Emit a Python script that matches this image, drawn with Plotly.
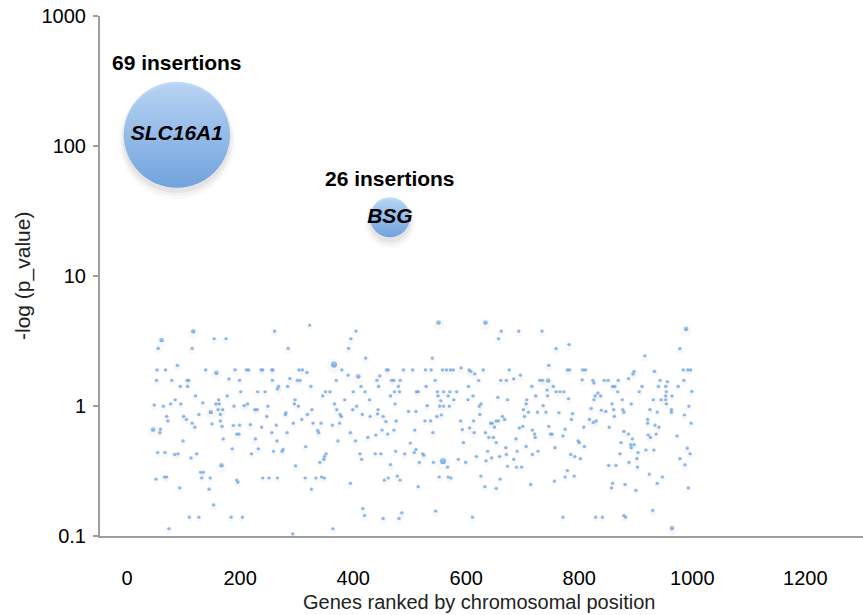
import math
import plotly.graph_objects as go

# ---------------- data ----------------
# highlighted genes
top_genes = ["SLC16A1", "BSG"]
top_pos = [88, 465]
top_neglogp = [122, 28.3]
top_insertions = [69, 26]

# background genes, grouped by insertion count
# 4 insertions
pos_4 = [366, 559]
nlp_4 = [2.09, 0.377]
# 3 insertions
pos_3 = [117, 61, 158, 148, 46, 167, 409, 551, 634, 745, 989, 964]
nlp_3 = [3.76, 3.22, 1.80, 0.90, 0.66, 0.35, 1.69, 4.39, 4.39, 1.57, 3.92, 0.115]
# 2 insertions
pos_2 = [261, 154, 175, 55, 115, 89, 191, 268, 266, 48, 134, 169, 189, 207, 115, 188, 218, 227, 232, 67, 145, 153, 74,
         405, 396, 392, 285, 422, 288, 391, 447, 443, 458, 404, 316, 298, 466, 417, 420, 486, 364, 293,
         662, 693, 734, 657, 759, 540, 746, 591, 608, 615, 684, 696, 743, 555, 531, 556, 606, 614, 541, 700, 659, 653, 546,
         782, 978, 916, 897, 895, 933, 805, 956, 999, 781, 833, 821, 839, 818, 825, 830, 879, 922, 918, 991, 987, 930, 879]
nlp_2 = [3.78, 3.30, 3.30, 2.78, 2.78, 2.06, 1.90, 1.42, 1.36, 1.02, 1.06, 0.94, 1.00, 1.01, 0.74, 0.71, 0.72, 0.56, 0.47, 0.44, 0.23, 0.174, 0.114,
         3.78, 3.30, 2.78, 2.78, 2.34, 1.63, 1.73, 1.71, 0.87, 0.76, 0.54, 0.487, 0.347, 0.355, 0.163, 0.144, 0.151, 0.114, 0.104,
         3.78, 3.78, 3.78, 3.30, 2.77, 2.34, 2.06, 1.97, 1.85, 1.77, 1.62, 1.73, 1.33, 1.10, 1.01, 0.855, 0.68, 0.625, 0.625, 0.70, 0.41, 0.233, 0.156,
         2.98, 2.77, 2.44, 1.85, 1.77, 1.85, 1.59, 1.54, 1.30, 1.14, 1.26, 0.96, 0.93, 0.79, 0.75, 0.77, 0.64, 0.60, 0.46, 0.475, 0.353, 0.158, 0.144]
# 1 insertion
pos_1 = [53, 68, 139, 211, 215, 237, 240, 256, 258, 52, 79, 106, 109, 180, 199, 257, 94, 107, 201, 231, 244,
         85, 121, 162, 177, 77, 95, 157, 163, 213, 64, 226, 230, 249, 127, 161, 165, 70, 72, 100, 105, 150, 165, 247, 264,
         59, 58, 120, 168, 194, 198, 199, 238, 256, 99, 170, 265, 54, 84, 90, 113, 123, 186, 220, 259,
         130, 135, 132, 147, 66, 70, 51, 194, 196, 240, 251, 266, 93, 110, 127, 184, 204,
         323, 304, 310, 380, 459, 462, 489, 505, 318, 301, 306, 370, 442, 468, 472, 483, 284, 325, 414, 445, 480,
         351, 359, 400, 421, 473, 482, 512, 515, 346, 466, 297, 385, 429, 296, 367, 474, 303, 406,
         327, 371, 399, 444, 498, 511, 281, 280, 319, 377, 379, 416, 430, 453, 309, 476, 294, 329, 343, 363, 376,
         472, 509, 451, 337, 339, 395, 283, 461, 440, 426, 373, 501, 511, 508, 491, 475, 276, 274,
         412, 439, 449, 352, 349, 517, 348, 341, 415, 315, 334, 344, 349, 462, 455, 478, 483, 326, 395, 515, 453, 481,
         528, 538, 558, 565, 572, 577, 605, 630, 676, 545, 622, 661, 671, 730, 735, 529, 604, 716, 754,
         549, 560, 571, 583, 759, 766, 550, 568, 612, 656, 723, 744, 578, 603, 673, 707, 626, 706, 736,
         553, 560, 570, 623, 701, 710, 726, 741, 624, 664, 668, 703, 764, 548, 527, 537, 590, 613, 653, 657,
         643, 646, 650, 746, 694, 593, 717, 721, 749, 752, 634, 640, 648, 722, 688, 595, 653,
         706, 727, 757, 670, 638, 690, 717, 523, 525, 618, 645, 671, 684, 635, 542, 586, 599, 673, 689, 698, 567,
         626, 552, 568, 573, 660, 756, 633, 714, 611,
         779, 783, 806, 811, 984, 992, 997, 824, 844, 851, 869, 887, 943, 985, 826, 859, 863, 911, 940, 953, 975,
         773, 868, 906, 954, 828, 838, 964, 953, 826, 876, 931, 945, 953, 858, 892, 954, 994,
         847, 861, 877, 879, 925, 938, 963, 963, 788, 862, 986, 786, 921, 998, 775, 808, 853, 921, 934, 941,
         771, 887, 936, 973, 926, 894, 798, 800, 874, 891, 897, 809, 892, 904, 932, 785, 792, 872, 996,
         802, 902, 978, 888, 852, 865, 903, 779, 924, 791, 775, 947, 859, 881, 938, 857, 900, 993,
         771, 829, 841, 882]
nlp_1 = [1.90, 1.90, 1.90, 1.90, 1.90, 1.90, 1.90, 1.90, 1.90, 1.58, 1.58, 1.58, 1.58, 1.62, 1.58, 1.58, 1.42, 1.42, 1.29, 1.29, 1.29,
         1.12, 1.20, 1.12, 1.20, 1.04, 1.04, 1.04, 1.04, 1.04, 1.00, 0.94, 0.94, 1.00, 0.865, 0.94, 0.865, 0.835, 0.77, 0.835, 0.79, 0.73, 0.77, 0.835, 0.715,
         0.665, 0.625, 0.69, 0.70, 0.61, 0.61, 0.715, 0.69, 0.625, 0.54, 0.56, 0.54, 0.44, 0.425, 0.43, 0.40, 0.43, 0.47, 0.43, 0.45,
         0.31, 0.31, 0.28, 0.28, 0.285, 0.285, 0.275, 0.27, 0.26, 0.28, 0.28, 0.28, 0.235, 0.14, 0.14, 0.14, 0.14,
         4.19, 1.90, 1.90, 1.90, 1.90, 1.90, 1.90, 1.90, 1.82, 1.58, 1.58, 1.58, 1.58, 1.58, 1.58, 1.58, 1.42, 1.42, 1.42, 1.42, 1.42,
         1.29, 1.29, 1.29, 1.29, 1.29, 1.29, 1.29, 1.29, 1.20, 1.20, 1.12, 1.12, 1.12, 1.04, 1.04, 1.04, 1.0, 1.0,
         0.94, 0.94, 0.94, 0.94, 0.91, 0.91, 0.89, 0.865, 0.865, 0.865, 0.835, 0.865, 0.835, 0.835, 0.79, 0.77, 0.74, 0.74, 0.74, 0.715, 0.74,
         0.655, 0.655, 0.655, 0.65, 0.625, 0.625, 0.625, 0.61, 0.60, 0.575, 0.54, 0.52, 0.465, 0.44, 0.43, 0.45, 0.465, 0.45,
         0.43, 0.43, 0.43, 0.43, 0.41, 0.37, 0.39, 0.37, 0.39, 0.28, 0.28, 0.285, 0.28, 0.28, 0.27, 0.29, 0.27, 0.23, 0.255, 0.24, 0.137, 0.137,
         1.90, 1.90, 1.90, 1.90, 1.90, 1.90, 1.90, 1.90, 1.90, 1.58, 1.58, 1.58, 1.58, 1.58, 1.58, 1.42, 1.42, 1.42, 1.42,
         1.29, 1.29, 1.29, 1.29, 1.29, 1.29, 1.20, 1.20, 1.20, 1.17, 1.20, 1.20, 1.12, 1.12, 1.12, 1.12, 1.04, 1.04, 1.01,
         1.0, 1.0, 1.0, 1.0, 0.94, 0.90, 0.90, 0.90, 0.865, 0.835, 0.79, 0.835, 0.89, 0.835, 0.77, 0.77, 0.77, 0.77, 0.77, 0.77,
         0.74, 0.74, 0.69, 0.70, 0.68, 0.66, 0.655, 0.61, 0.61, 0.61, 0.625, 0.575, 0.575, 0.575, 0.56, 0.525, 0.525,
         0.49, 0.45, 0.48, 0.48, 0.45, 0.45, 0.425, 0.43, 0.42, 0.41, 0.40, 0.425, 0.39, 0.38, 0.37, 0.39, 0.37, 0.345, 0.34, 0.34, 0.34,
         0.29, 0.285, 0.285, 0.28, 0.275, 0.265, 0.24, 0.25, 0.14,
         1.90, 1.90, 1.90, 1.90, 1.90, 1.90, 1.90, 1.58, 1.58, 1.58, 1.58, 1.63, 1.58, 1.58, 1.51, 1.42, 1.42, 1.42, 1.42, 1.42, 1.42,
         1.29, 1.29, 1.29, 1.29, 1.20, 1.20, 1.20, 1.20, 1.12, 1.12, 1.12, 1.12, 1.12, 1.04, 1.04, 1.04, 1.0,
         0.91, 0.94, 0.94, 0.90, 0.94, 0.90, 0.94, 0.90, 0.875, 0.835, 0.855, 0.79, 0.79, 0.74, 0.665, 0.69, 0.69, 0.74, 0.715, 0.69,
         0.59, 0.61, 0.61, 0.59, 0.575, 0.56, 0.54, 0.525, 0.525, 0.505, 0.505, 0.49, 0.48, 0.44, 0.46, 0.425, 0.41, 0.43, 0.43,
         0.395, 0.395, 0.395, 0.37, 0.35, 0.35, 0.34, 0.32, 0.30, 0.29, 0.285, 0.285, 0.255, 0.25, 0.255, 0.235, 0.225, 0.235,
         0.14, 0.14, 0.14, 0.14]

x_ticks = [0, 200, 400, 600, 800, 1000, 1200]
y_ticks = [0.1, 1, 10, 100, 1000]
y_tick_text = ["0.1", "1", "10", "100", "1000"]

# --------------- figure ---------------
FONT = "Liberation Sans, Arial, Helvetica, sans-serif"
LIGHT = "#a6cdfa"
DARK = "#3f87da"
SMALL_LIGHT = "#86bbf4"
SMALL_DARK = "#3a82d6"
SIZEREF = 0.65  # diameter px = insertions / SIZEREF

bg_pos = pos_4 + pos_3 + pos_2 + pos_1
bg_nlp = nlp_4 + nlp_3 + nlp_2 + nlp_1
bg_ins = [4] * len(pos_4) + [3] * len(pos_3) + [2] * len(pos_2) + [1] * len(pos_1)

fig = go.Figure()

# soft shadows for background genes
fig.add_trace(go.Scatter(
    x=bg_pos, y=[v * 10 ** (-2.0 / 130) for v in bg_nlp], mode="markers",
    marker=dict(size=[n * 2.4 for n in bg_ins], sizemode="diameter", sizeref=SIZEREF, sizemin=3,
                color="rgba(90,90,90,0.06)", line=dict(width=0)),
    hoverinfo="skip", showlegend=False))

fig.add_trace(go.Scatter(
    x=bg_pos, y=bg_nlp, mode="markers",
    marker=dict(size=bg_ins, sizemode="diameter", sizeref=SIZEREF, sizemin=1.7,
                color=SMALL_LIGHT, gradient=dict(type="vertical", color=SMALL_DARK), line=dict(width=0)),
    showlegend=False))

# shadows of highlighted bubbles (layered to fake a blur)
for extra, alpha, off in [(10, 0.04, 6), (6, 0.06, 5), (2, 0.09, 4)]:
    fig.add_trace(go.Scatter(
        x=top_pos, y=[v * 10 ** (-off / 130) for v in top_neglogp], mode="markers",
        marker=dict(size=[n + extra * SIZEREF for n in top_insertions], sizemode="diameter", sizeref=SIZEREF,
                    color=f"rgba(40,40,40,{alpha})", line=dict(width=0)),
        hoverinfo="skip", showlegend=False))

fig.add_trace(go.Scatter(
    x=top_pos, y=top_neglogp, mode="markers+text",
    text=[f"<b><i>{g}</i></b>" for g in top_genes], textposition="middle center",
    textfont=dict(family=FONT, size=21, color="black"),
    marker=dict(size=top_insertions, sizemode="diameter", sizeref=SIZEREF,
                color=LIGHT, gradient=dict(type="vertical", color=DARK), line=dict(width=0)),
    showlegend=False))

for g, xp, yp, n in zip(top_genes, top_pos, top_neglogp, top_insertions):
    fig.add_annotation(x=xp, y=math.log10(yp), xref="x", yref="y", text=f"<b>{n} insertions</b>",
                       showarrow=False, yanchor="middle", yshift=n / SIZEREF / 2 + 19,
                       font=dict(family=FONT, size=21, color="black"))

fig.add_annotation(text="Genes ranked by chromosomal position", xref="paper", yref="paper",
                   x=0.4967, y=0, yshift=-66, xanchor="center", yanchor="middle", showarrow=False,
                   font=dict(family=FONT, size=20, color="#222222"))
fig.add_annotation(text="-log (p_value)", xref="paper", yref="paper", textangle=-90,
                   x=0, xshift=-77, y=0.5, xanchor="center", yanchor="middle", showarrow=False,
                   font=dict(family=FONT, size=21, color="#222222"))

fig.update_layout(
    width=863, height=615,
    margin=dict(l=100, r=0, t=16, b=79),
    paper_bgcolor="white", plot_bgcolor="white",
    font=dict(family=FONT, size=20, color="black"),
    xaxis=dict(range=[-48, 1302], tickvals=x_ticks, showgrid=False, zeroline=False, automargin=False,
               showline=True, linecolor="#9e9e9e", linewidth=2, ticks="", ticklabelstandoff=23,
               tickfont=dict(family=FONT, size=20, color="black")),
    yaxis=dict(type="log", range=[-1, 3], tickvals=y_ticks, ticktext=y_tick_text, showgrid=False,
               zeroline=False, showline=True, linecolor="#9e9e9e", linewidth=2, automargin=False,
               ticks="outside", ticklen=5, tickwidth=1.5, tickcolor="#9e9e9e", ticklabelstandoff=3,
               tickfont=dict(family=FONT, size=20, color="black")),
)

fig.write_html("out.html", config={"displayModeBar": False},
               post_script="document.body.style.margin='0';document.body.style.overflow='hidden';")
